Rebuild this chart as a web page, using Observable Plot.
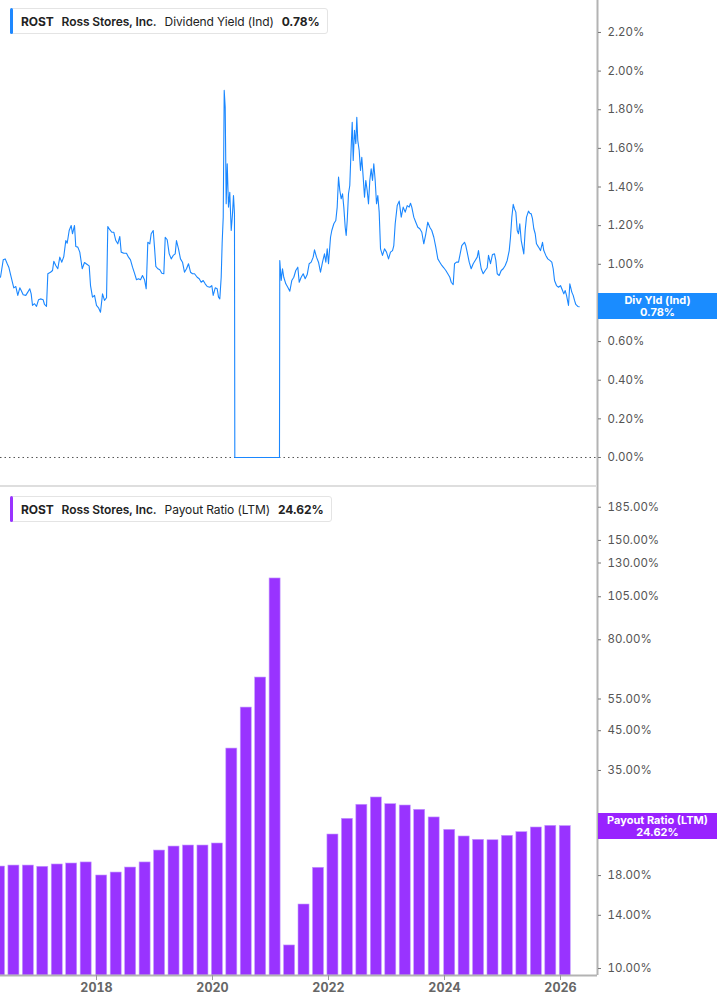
<!DOCTYPE html>
<html>
<head>
<meta charset="utf-8">
<script src="https://cdn.jsdelivr.net/npm/d3@7"></script>
<script src="https://cdn.jsdelivr.net/npm/@observablehq/plot@0.6"></script>
<style>
  html, body { margin: 0; padding: 0; background: #fff; }
  #wrap { position: relative; width: 717px; height: 1005px; overflow: hidden; font-family: Inter, "Noto Sans", sans-serif; }
  .panel { position: absolute; left: 0; width: 717px; }
  .legend { position: absolute; left: 10px; height: 24px; border: 1px solid #e4e4e4; border-radius: 3px; background: #fff;
            display: flex; align-items: center; padding: 0 7px 0 10px; gap: 8px; font-size: 12px; letter-spacing: -0.1px; color: #222; white-space: nowrap; }
  .legend .acc { position: absolute; left: -1px; top: -1px; bottom: -1px; width: 3px; border-radius: 2px; }
  .legend b { font-weight: 700; }
  .legend .sb { font-weight: 600; }
  .tag { position: absolute; left: 598px; width: 119px; height: 26px; color: #fff; font-weight: 700; font-size: 11px;
         line-height: 12px; text-align: center; display: flex; flex-direction: column; justify-content: center; }
  .sep { position: absolute; left: 0; top: 485px; width: 597px; height: 2px; background: #dedede; }
</style>
</head>
<body>
<div id="wrap">
  <div class="panel" id="topPanel" style="top:0;height:487px"></div>
  <div class="panel" id="botPanel" style="top:487px;height:518px"></div>
  <div class="sep"></div>
  <div class="legend" style="top:8px"><span class="acc" style="background:#1e88ff"></span><b>ROST</b><span class="sb">Ross Stores, Inc.</span><span>Dividend Yield (Ind)</span><b>0.78%</b></div>
  <div class="legend" style="top:496px"><span class="acc" style="background:#9933ff"></span><b>ROST</b><span class="sb">Ross Stores, Inc.</span><span>Payout Ratio (LTM)</span><b>24.62%</b></div>
</div>
<script>
// ---- Dividend yield (Ind), % — decimal year / value
const dyYear = [
2016.345,2016.392,2016.426,2016.461,2016.488,2016.529,2016.574,2016.609,2016.643,2016.678,
2016.702,2016.736,2016.781,2016.816,2016.850,2016.874,2016.897,2016.931,2016.966,2017.000,
2017.035,2017.081,2017.104,2017.138,2017.161,2017.207,2017.242,2017.264,2017.298,2017.333,
2017.367,2017.402,2017.436,2017.471,2017.495,2017.529,2017.564,2017.586,2017.621,2017.643,
2017.678,2017.712,2017.754,2017.793,2017.840,2017.874,2017.897,2017.931,2017.966,2018.000,
2018.035,2018.069,2018.104,2018.138,2018.173,2018.195,2018.229,2018.264,2018.298,2018.333,
2018.367,2018.402,2018.426,2018.471,2018.517,2018.552,2018.586,2018.621,2018.655,2018.690,
2018.724,2018.759,2018.793,2018.828,2018.857,2018.885,2018.919,2018.943,2018.978,2019.000,
2019.023,2019.057,2019.092,2019.126,2019.161,2019.185,2019.219,2019.254,2019.288,2019.323,
2019.357,2019.379,2019.414,2019.448,2019.483,2019.517,2019.552,2019.586,2019.621,2019.655,
2019.690,2019.736,2019.771,2019.805,2019.840,2019.874,2019.909,2019.954,2019.988,2020.012,
2020.047,2020.081,2020.104,2020.126,2020.150,2020.167,2020.185,2020.202,2020.219,2020.236,
2020.254,2020.276,2020.298,2020.323,2020.345,2020.362,2020.379,2020.385,2021.155,2021.160,
2021.185,2021.207,2021.229,2021.264,2021.298,2021.333,2021.367,2021.402,2021.436,2021.471,
2021.495,2021.529,2021.564,2021.598,2021.633,2021.667,2021.702,2021.736,2021.759,2021.793,
2021.828,2021.862,2021.897,2021.931,2021.954,2021.978,2022.000,2022.035,2022.057,2022.092,
2022.126,2022.150,2022.173,2022.195,2022.219,2022.242,2022.264,2022.288,2022.305,2022.323,
2022.345,2022.367,2022.391,2022.409,2022.426,2022.448,2022.471,2022.488,2022.505,2022.529,
2022.552,2022.574,2022.598,2022.621,2022.643,2022.667,2022.690,2022.712,2022.736,2022.759,
2022.781,2022.805,2022.828,2022.850,2022.874,2022.897,2022.931,2022.966,2023.000,2023.035,
2023.069,2023.104,2023.126,2023.150,2023.185,2023.219,2023.254,2023.288,2023.323,2023.357,
2023.391,2023.414,2023.436,2023.471,2023.505,2023.540,2023.574,2023.609,2023.643,2023.678,
2023.712,2023.747,2023.781,2023.816,2023.850,2023.885,2023.919,2023.954,2023.988,2024.023,
2024.057,2024.092,2024.116,2024.150,2024.173,2024.207,2024.242,2024.276,2024.298,2024.323,
2024.345,2024.367,2024.391,2024.426,2024.460,2024.495,2024.529,2024.564,2024.586,2024.609,
2024.633,2024.667,2024.702,2024.736,2024.759,2024.793,2024.828,2024.862,2024.885,2024.909,
2024.943,2024.978,2025.012,2025.047,2025.081,2025.116,2025.138,2025.161,2025.185,2025.207,
2025.230,2025.254,2025.276,2025.298,2025.323,2025.345,2025.367,2025.391,2025.414,2025.448,
2025.471,2025.495,2025.517,2025.540,2025.564,2025.586,2025.621,2025.655,2025.690,2025.712,
2025.747,2025.781,2025.816,2025.850,2025.874,2025.897,2025.931,2025.966,2026.000,2026.035,
2026.057,2026.081,2026.104,2026.138,2026.161,2026.195,2026.219,2026.242,2026.264,2026.298,2026.322
];
const dyValue = [
0.933,1.023,1.028,1.003,0.985,0.933,0.878,0.885,0.839,0.878,
0.864,0.842,0.839,0.856,0.873,0.847,0.787,0.796,0.782,0.816,
0.821,0.816,0.792,0.782,0.951,0.959,0.968,1.016,0.994,0.977,
1.037,1.011,1.040,1.123,1.109,1.175,1.201,1.158,1.201,1.092,
1.089,1.063,0.977,1.009,0.999,0.992,0.890,0.830,0.839,0.787,
0.775,0.752,0.847,0.813,0.827,1.196,1.179,1.166,1.166,1.123,
1.106,1.144,1.063,1.057,1.057,1.037,1.023,0.985,0.954,0.920,
0.925,0.920,0.942,0.920,0.873,1.114,1.106,1.158,1.175,1.089,
0.989,0.977,0.972,0.954,0.951,1.140,1.127,1.054,1.028,1.046,
1.054,1.123,1.080,1.028,1.011,0.959,0.977,1.003,0.959,0.951,
0.951,0.933,0.925,0.907,0.916,0.899,0.885,0.881,0.890,0.839,
0.878,0.873,0.830,0.821,0.933,1.114,1.244,1.900,1.813,1.313,
1.520,1.296,1.373,1.175,1.261,1.356,1.261,0,0,1.020,
0.916,0.977,0.933,0.899,0.881,0.861,0.916,0.933,0.968,0.985,
0.907,0.933,0.951,0.925,0.947,1.003,1.011,1.037,1.075,1.037,
1.011,0.959,1.011,1.054,1.011,1.080,1.003,1.140,1.175,1.210,
1.227,1.296,1.451,1.382,1.339,1.365,1.296,1.192,1.149,1.227,
1.365,1.408,1.606,1.735,1.537,1.693,1.624,1.761,1.641,1.589,
1.486,1.554,1.451,1.347,1.434,1.382,1.313,1.434,1.494,1.434,
1.520,1.434,1.313,1.356,1.270,1.080,1.046,1.080,1.063,1.028,
1.063,1.071,1.097,1.210,1.304,1.327,1.244,1.296,1.270,1.304,
1.296,1.316,1.296,1.244,1.218,1.192,1.184,1.166,1.106,1.158,
1.218,1.192,1.175,1.140,1.089,1.028,1.011,0.994,0.982,0.968,
0.951,0.933,0.907,0.895,1.003,1.011,1.011,1.063,1.097,1.106,
1.114,1.097,1.063,1.011,0.977,1.003,1.020,1.037,1.071,1.020,
0.977,0.951,0.968,0.982,1.046,1.003,1.051,1.054,1.020,0.951,
0.942,0.968,0.977,0.994,1.020,1.071,1.140,1.244,1.310,1.287,
1.270,1.175,1.158,1.210,1.123,1.089,1.054,1.175,1.244,1.275,
1.264,1.261,1.236,1.184,1.158,1.106,1.089,1.071,1.114,1.071,
1.046,1.028,1.020,1.011,0.977,0.916,0.890,0.881,0.890,0.864,
0.847,0.864,0.839,0.787,0.899,0.856,0.839,0.813,0.792,0.782,0.780
];

// ---- Payout ratio (LTM), % — fiscal quarter ends
const payoutDate = [
"2016-04-30","2016-07-30","2016-10-29","2017-01-28","2017-04-29","2017-07-29","2017-10-28","2018-02-03",
"2018-05-05","2018-08-04","2018-11-03","2019-02-02","2019-05-04","2019-08-03","2019-11-02","2020-02-01",
"2020-05-02","2020-08-01","2020-10-31","2021-01-30","2021-05-01","2021-07-31","2021-10-30","2022-01-29",
"2022-04-30","2022-07-30","2022-10-29","2023-01-28","2023-04-29","2023-07-29","2023-10-28","2024-02-03",
"2024-05-04","2024-08-03","2024-11-02","2025-02-01","2025-05-03","2025-08-02","2025-11-01","2026-01-31"
];
const payoutValue = [
19.06,19.18,19.18,19.03,19.31,19.43,19.56,18.01,
18.35,18.94,19.56,21.09,21.63,21.77,21.77,22.05,
40.2,52.1,63.0,117.9,11.57,14.99,18.91,23.34,
25.78,28.17,29.50,28.28,28.04,27.29,26.0,24.04,
23.05,22.57,22.51,23.15,23.69,24.40,24.66,24.62
];

// ---- ticks (labels under the value tags are covered in the reference)
const xTicks = [2018, 2020, 2022, 2024, 2026];
const dyTicks = [0, 0.2, 0.4, 0.6, 0.8, 1.0, 1.2, 1.4, 1.6, 1.8, 2.0, 2.2];
const payoutTicks = [10, 14, 18, 25, 35, 45, 55, 80, 105, 130, 150, 185];
const dyCovered = [0.8];
const payoutCovered = [25];
const lastYield = 0.78, lastPayout = 24.62;

function toYear(s) {
  const d = new Date(s + "T00:00:00Z");
  const y = d.getUTCFullYear();
  const a = Date.UTC(y, 0, 1), b = Date.UTC(y + 1, 0, 1);
  return y + (d - a) / (b - a);
}

const dy = dyYear.map((t, i) => ({t, v: dyValue[i]}));
const payout = payoutDate.map((s, i) => ({t: toYear(s), v: payoutValue[i]}));

const xDomain = [2016.345, 2026.638];
const axisColor = "#b3b3b3";
const pctExcept = covered => d => covered.includes(d) ? "" : d.toFixed(2) + "%";
const baseStyle = {fontFamily: "Inter, 'Noto Sans', sans-serif", fontSize: "11.5px", color: "#555", background: "transparent", overflow: "visible"};

const topPlot = Plot.plot({
  width: 717, height: 487,
  marginLeft: 0, marginRight: 120, marginTop: 0, marginBottom: 0,
  x: {type: "linear", domain: xDomain, axis: null, label: null},
  y: {domain: [-0.1553, 2.3654], axis: null, label: null},
  style: baseStyle,
  marks: [
    Plot.ruleY([0], {stroke: "#555", strokeDasharray: "1.5,3", strokeWidth: 1}),
    Plot.line(dy, {x: "t", y: "v", stroke: "#1a87ff", strokeWidth: 1.1}),
    Plot.ruleX([xDomain[1]], {stroke: axisColor, strokeWidth: 2}),
    Plot.axisY({anchor: "right", label: null, ticks: dyTicks, tickFormat: pctExcept(dyCovered), tickSize: 3, tickPadding: 7, stroke: "#777", fill: "#555"})
  ]
});
document.getElementById("topPanel").appendChild(topPlot);

const yMin = 9.567;
const botPlot = Plot.plot({
  width: 717, height: 518,
  marginLeft: 0, marginRight: 120, marginTop: 0, marginBottom: 30,
  x: {type: "linear", domain: xDomain, label: null},
  y: {type: "log", domain: [yMin, 209.6], label: null},
  style: baseStyle,
  marks: [
    Plot.rect(payout, {x1: d => d.t - 0.095, x2: d => d.t + 0.095, y1: yMin, y2: "v", fill: "#9933ff", stroke: "#c49bff", strokeWidth: 0.6}),
    Plot.ruleY([yMin], {stroke: axisColor, strokeWidth: 2}),
    Plot.ruleX([xDomain[1]], {stroke: axisColor, strokeWidth: 2}),
    Plot.axisX({label: null, ticks: xTicks, tickFormat: d => String(d), tickSize: 5, tickPadding: 3, stroke: "#999", fill: "#666", fontWeight: "bold", fontSize: 12.5}),
    Plot.axisY({anchor: "right", label: null, ticks: payoutTicks, tickFormat: pctExcept(payoutCovered), tickSize: 3, tickPadding: 7, stroke: "#777", fill: "#555"})
  ]
});
document.getElementById("botPanel").appendChild(botPlot);

// value tags positioned via the charts' own scales
const wrap = document.getElementById("wrap");
function tag(top, color, l1, l2) {
  const el = document.createElement("div");
  el.className = "tag";
  el.style.top = (top - 13) + "px";
  el.style.background = color;
  el.innerHTML = "<div>" + l1 + "</div><div>" + l2 + "</div>";
  wrap.appendChild(el);
}
tag(topPlot.scale("y").apply(lastYield), "#1a8cff", "Div Yld (Ind)", lastYield.toFixed(2) + "%");
tag(487 + botPlot.scale("y").apply(lastPayout), "#9922ff", "Payout Ratio (LTM)", lastPayout.toFixed(2) + "%");
</script>
</body>
</html>
